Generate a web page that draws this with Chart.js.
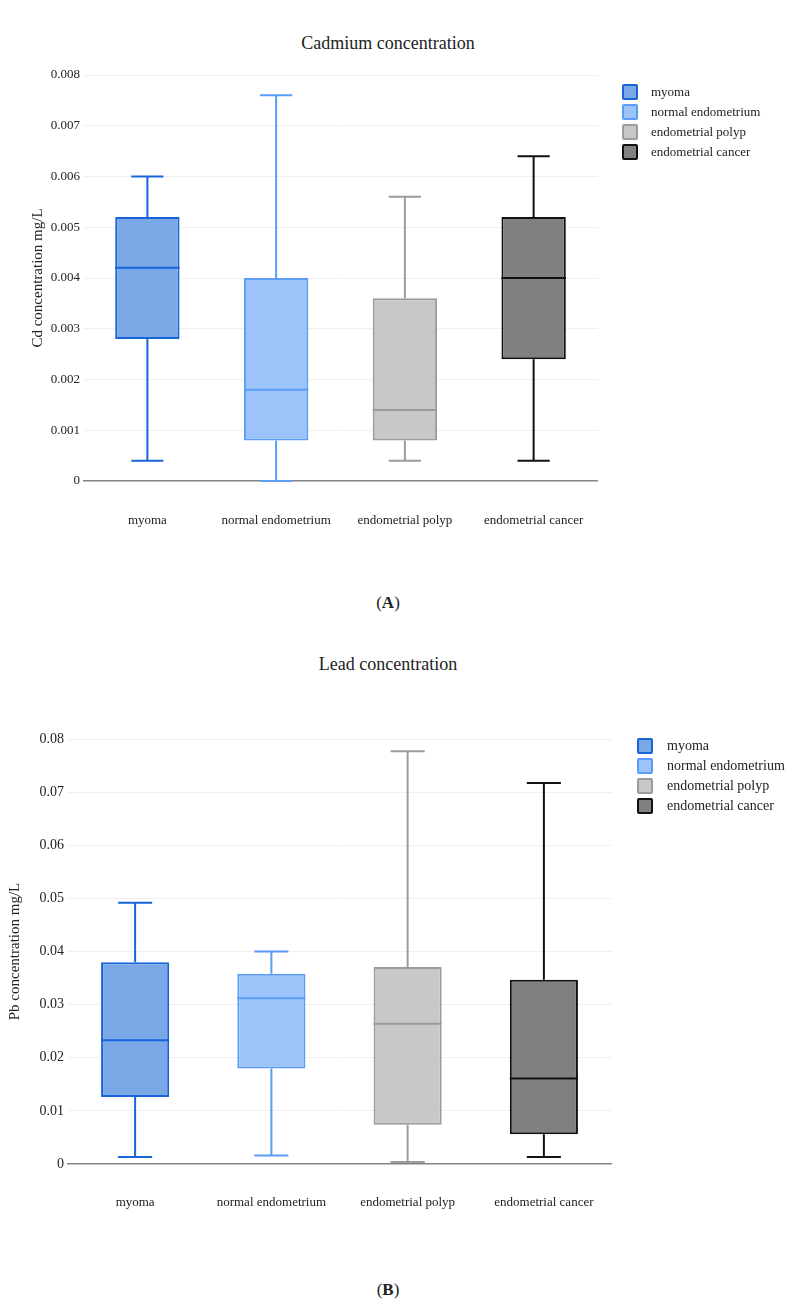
<!DOCTYPE html>
<html>
<head>
<meta charset="utf-8">
<script src="https://cdn.jsdelivr.net/npm/chart.js@4.4.1/dist/chart.umd.min.js"></script>
<style>
  body { margin: 0; background: #fff; font-family: "Liberation Serif", "Times New Roman", serif; color: #222; }
  #page { position: relative; width: 793px; height: 1311px; overflow: hidden; }
  .title { position: absolute; left: 0; width: 776px; text-align: center; font-size: 18px; }
  .cap { position: absolute; left: 0; width: 776px; text-align: center; font-size: 17px; }
  .cap b { font-weight: bold; }
  canvas { position: absolute; left: 0; }
  .legend { position: absolute; font-size: 13px; }
  .legend div { position: relative; height: 20px; line-height: 20px; white-space: nowrap; }
  .legend span.sw { position: absolute; top: 2px; width: 12px; height: 12px; border: 2px solid; border-radius: 2px; }
</style>
</head>
<body>
<div id="page">
  <div class="title" style="top:33px">Cadmium concentration</div>
  <canvas id="cdChart" style="top:0" width="793" height="540"></canvas>
  <div class="legend" id="cdLegend" style="left:622px;top:82px"></div>
  <div class="cap" style="top:593px">(<b>A</b>)</div>

  <div class="title" style="top:654px">Lead concentration</div>
  <canvas id="pbChart" style="top:640px" width="793" height="580"></canvas>
  <div class="legend" id="pbLegend" style="left:637px;top:736px;font-size:14px"></div>
  <div class="cap" style="top:1280px">(<b>B</b>)</div>
</div>
<script>
const categories = ["myoma", "normal endometrium", "endometrial polyp", "endometrial cancer"];
const fills = ["#7aa8e6", "#9dc4fa", "#c8c8c8", "#808080"];
const borders = ["#1765d8", "#5a9cf8", "#9c9c9c", "#111111"];

// Cadmium (mg/L)
const cdMin = [0.0004, 0.0, 0.0004, 0.0004];
const cdQ1 = [0.0028, 0.0008, 0.0008, 0.0024];
const cdMedian = [0.0042, 0.0018, 0.0014, 0.0040];
const cdQ3 = [0.0052, 0.0040, 0.0036, 0.0052];
const cdMax = [0.0060, 0.0076, 0.0056, 0.0064];
const cdTicks = [0, 0.001, 0.002, 0.003, 0.004, 0.005, 0.006, 0.007, 0.008];

// Lead (mg/L)
const pbMin = [0.0013, 0.0016, 0.0004, 0.0013];
const pbQ1 = [0.0126, 0.0180, 0.0074, 0.0056];
const pbMedian = [0.0233, 0.0312, 0.0264, 0.0161];
const pbQ3 = [0.0380, 0.0358, 0.0371, 0.0347];
const pbMax = [0.0492, 0.0400, 0.0777, 0.0717];
const pbTicks = [0, 0.01, 0.02, 0.03, 0.04, 0.05, 0.06, 0.07, 0.08];

const g = (id) => document.getElementById(id);
const FONT = "'Liberation Serif', 'Times New Roman', serif";

// whiskers, caps and median lines on top of the floating bars
const whiskerPlugin = {
  id: "whiskers",
  afterDatasetsDraw(chart, args, opts) {
    const y = chart.scales.y;
    const ctx = chart.ctx;
    const meta = chart.getDatasetMeta(0);
    ctx.save();
    meta.data.forEach((bar, i) => {
      const half = bar.width / 2;
      const cap = bar.width / 4;
      const x = bar.x;
      const yMin = y.getPixelForValue(opts.min[i]);
      const yMax = y.getPixelForValue(opts.max[i]);
      const yQ1 = y.getPixelForValue(opts.q1[i]);
      const yQ3 = y.getPixelForValue(opts.q3[i]);
      const yMed = y.getPixelForValue(opts.median[i]);
      ctx.strokeStyle = borders[i];
      ctx.lineWidth = 2;
      ctx.beginPath();
      ctx.moveTo(x, yQ3); ctx.lineTo(x, yMax);
      ctx.moveTo(x - cap, yMax); ctx.lineTo(x + cap, yMax);
      ctx.moveTo(x, yQ1); ctx.lineTo(x, yMin);
      ctx.moveTo(x - cap, yMin); ctx.lineTo(x + cap, yMin);
      ctx.moveTo(x - half, yMed); ctx.lineTo(x + half, yMed);
      ctx.stroke();
    });
    ctx.restore();
  }
};

function makeBoxChart(id, s) {
  return new Chart(g(id), {
    type: "bar",
    data: {
      labels: categories,
      datasets: [{
        data: categories.map((c, i) => [s.q1[i], s.q3[i]]),
        backgroundColor: fills,
        borderColor: borders,
        borderWidth: 2,
        borderSkipped: false,
        barPercentage: 0.5,
        categoryPercentage: 1.0,
      }],
    },
    plugins: [whiskerPlugin],
    options: {
      responsive: false,
      animation: false,
      events: [],
      layout: { padding: { top: s.top, right: s.right, left: 0, bottom: 0 } },
      plugins: {
        legend: { display: false },
        tooltip: { enabled: false },
        whiskers: { min: s.min, q1: s.q1, median: s.median, q3: s.q3, max: s.max },
      },
      scales: {
        x: {
          grid: { display: false },
          border: { display: false },
          ticks: { color: "#222", font: { family: FONT, size: 13 }, padding: s.xPad, maxRotation: 0 },
          afterFit: (sc) => { sc.height = s.xHeight; },
        },
        y: {
          min: 0,
          max: s.ticks[s.ticks.length - 1],
          afterBuildTicks: (sc) => { sc.ticks = s.ticks.map((v) => ({ value: v })); },
          grid: {
            drawTicks: false,
            color: (c) => (c.tick && c.tick.value === 0 ? "#858585" : "#f0f0f0"),
            lineWidth: (c) => (c.tick && c.tick.value === 0 ? 1.5 : 1),
          },
          border: { display: false },
          ticks: {
            color: "#222",
            padding: 3,
            font: { family: FONT, size: s.tickSize },
            callback: (v) => (v === 0 ? "0" : v.toFixed(s.digits)),
          },
          title: {
            display: true,
            text: s.yTitle,
            color: "#222",
            font: { family: FONT, size: 15 },
            padding: { top: s.titlePad, bottom: 0 },
          },
          afterFit: (sc) => { sc.width = s.yWidth; },
        },
      },
    },
  });
}

function makeLegend(id) {
  g(id).innerHTML = categories.map((c, i) =>
    '<div><span class="sw" style="background:' + fills[i] + ';border-color:' + borders[i] +
    '"></span><span style="position:absolute;left:' + (id === "pbLegend" ? 30 : 29) + 'px">' + c + "</span></div>"
  ).join("");
}

makeBoxChart("cdChart", {
  min: cdMin, q1: cdQ1, median: cdMedian, q3: cdQ3, max: cdMax, ticks: cdTicks,
  digits: 3, yTitle: "Cd concentration mg/L", tickSize: 13,
  top: 75, right: 195, yWidth: 83, xHeight: 59, xPad: 24, titlePad: 29,
});
makeBoxChart("pbChart", {
  min: pbMin, q1: pbQ1, median: pbMedian, q3: pbQ3, max: pbMax, ticks: pbTicks,
  digits: 2, yTitle: "Pb concentration mg/L", tickSize: 14,
  top: 99, right: 181, yWidth: 67, xHeight: 56, xPad: 23, titlePad: 6,
});
makeLegend("cdLegend");
makeLegend("pbLegend");
</script>
</body>
</html>
